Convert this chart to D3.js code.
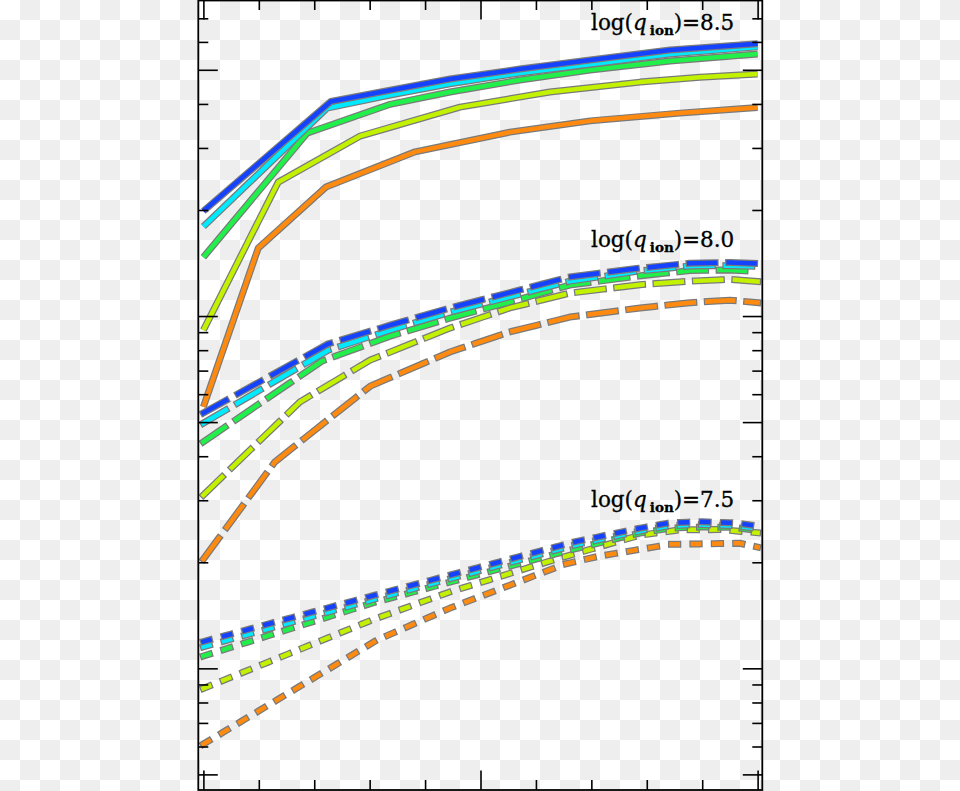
<!DOCTYPE html>
<html><head><meta charset="utf-8">
<script src="https://cdn.jsdelivr.net/npm/d3@7"></script>
<style>body{margin:0;background:#fff}svg{display:block}</style>
</head><body>
<svg id="c" width="960" height="791"></svg>
<script>
// ---------- data ----------
const xTicks = [0,0.1,0.2,0.3,0.4,0.5,0.6,0.7,0.8,0.9,1.0];
const xMajor = [0,0.5,1.0];
const yTicks = [0.5,0.6,0.7,0.8,0.9,1,2,3,4,5,6,7,8,9,10,20,30,40,50,60,70];
const yMajor = [0.5,1,5,10,50];
const seriesNames = ["blue","cyan","green","yellow","orange"];
const seriesColors = ["#1442ff","#00eaff","#22f04a","#c2f200","#ff8a10"];
const qLabels = ["8.5","8.0","7.5"];

// log(q_ion)=8.5 (solid) : x values and log10(y) values per series
const q85_x = [
  [0,0.230,0.337,0.445,0.571,0.698,0.842,1.0],
  [0,0.223,0.337,0.445,0.571,0.698,0.842,1.0],
  [0,0.187,0.337,0.445,0.571,0.698,0.842,1.0],
  [0,0.135,0.283,0.463,0.625,0.788,0.896,1.0],
  [0,0.099,0.221,0.382,0.553,0.698,0.860,1.0]
];
const q85_logy = [
  [1.298,1.609,1.641,1.673,1.701,1.727,1.755,1.773],
  [1.254,1.590,1.627,1.659,1.690,1.715,1.744,1.764],
  [1.167,1.519,1.601,1.636,1.670,1.698,1.724,1.744],
  [0.960,1.380,1.511,1.593,1.636,1.664,1.678,1.687],
  [0.742,1.193,1.366,1.466,1.522,1.554,1.576,1.592]
];
// log(q_ion)=8.0 (long dashes)
const q80_x = [
  [0,0.225,0.337,0.445,0.571,0.661,0.788,0.878,0.950,1.0],
  [0,0.225,0.337,0.445,0.571,0.661,0.788,0.878,0.950,1.0],
  [0,0.214,0.337,0.445,0.571,0.661,0.788,0.878,0.950,1.0],
  [0,0.174,0.301,0.445,0.553,0.661,0.788,0.878,0.950,1.0],
  [0,0.129,0.301,0.445,0.553,0.661,0.788,0.878,0.950,1.0]
];
const q80_logy = [
  [0.725,0.921,0.974,1.023,1.074,1.111,1.136,1.150,1.152,1.149],
  [0.696,0.903,0.960,1.011,1.062,1.099,1.128,1.142,1.143,1.141],
  [0.643,0.872,0.943,0.994,1.048,1.088,1.114,1.129,1.131,1.126],
  [0.492,0.756,0.875,0.966,1.023,1.065,1.089,1.099,1.104,1.098],
  [0.310,0.586,0.801,0.898,0.955,0.997,1.023,1.038,1.045,1.038]
];
// log(q_ion)=7.5 (short dashes)
const q75_x = [
  [0,0.310,0.670,0.788,0.842,0.896,0.959,1.0],
  [0,0.310,0.670,0.788,0.842,0.896,0.959,1.0],
  [0,0.310,0.670,0.788,0.842,0.896,0.959,1.0],
  [0,0.304,0.445,0.643,0.788,0.860,0.932,1.0],
  [0,0.313,0.445,0.553,0.652,0.716,0.797,0.842,0.968,1.0]
];
const q75_logy = [
  [0.076,0.208,0.359,0.398,0.413,0.416,0.413,0.404],
  [0.061,0.197,0.350,0.390,0.405,0.408,0.405,0.397],
  [0.035,0.188,0.339,0.384,0.398,0.401,0.400,0.391],
  [-0.057,0.137,0.217,0.313,0.378,0.393,0.394,0.385],
  [-0.215,0.080,0.171,0.236,0.296,0.319,0.340,0.352,0.355,0.344]
];

// ---------- drawing ----------
const svg = d3.select("#c");
const W = 960, H = 791;
const pLeft = 198.3, pRight = 762.3, pTop = 0, pBottom = 790;

// checkerboard background
const defs = svg.append("defs");
const pat = defs.append("pattern").attr("id","chk").attr("patternUnits","userSpaceOnUse")
  .attr("width",40).attr("height",40);
pat.append("rect").attr("width",40).attr("height",40).attr("fill","#ffffff");
pat.append("rect").attr("x",20).attr("y",0).attr("width",20).attr("height",20).attr("fill","#eeeeee");
pat.append("rect").attr("x",0).attr("y",20).attr("width",20).attr("height",20).attr("fill","#eeeeee");
svg.append("rect").attr("width",W).attr("height",H).attr("fill","url(#chk)");

const x = d3.scaleLinear().domain([-0.00918, 1.00845]).range([pLeft, pRight]);
const y = d3.scaleLog().domain([0.4515, 78.9]).range([pBottom, pTop]);

const clipId = "plotclip";
defs.append("clipPath").attr("id",clipId).append("rect")
  .attr("x",pLeft).attr("y",pTop).attr("width",pRight-pLeft).attr("height",pBottom-pTop);

const line = d3.line().x(d=>x(d[0])).y(d=>y(d[1]));

const groups = [
  {xs:q85_x, ys:q85_logy, dash:null},
  {xs:q80_x, ys:q80_logy, dash:"26,13.5"},
  {xs:q75_x, ys:q75_logy, dash:"6.3,15.1"}
];
const gLines = svg.append("g").attr("clip-path",`url(#${clipId})`);
groups.forEach(g=>{
  for (let i = seriesNames.length-1; i >= 0; i--) {
    const pts = g.xs[i].map((xv,k)=>[xv, Math.pow(10, g.ys[i][k])]);
    const p = line(pts);
    const under = gLines.append("path").attr("d",p).attr("fill","none")
      .attr("stroke","#7a7a7a").attr("stroke-width",7)
      .attr("stroke-linejoin","round");
    const over = gLines.append("path").attr("d",p).attr("fill","none")
      .attr("stroke",seriesColors[i]).attr("stroke-width",4.5)
      .attr("stroke-linejoin","round");
    if (g.dash) {
      under.attr("stroke-dasharray",g.dash).attr("stroke-linecap","square");
      over.attr("stroke-dasharray",g.dash).attr("stroke-linecap","square");
    } else {
      under.attr("stroke-linecap","butt");
      over.attr("stroke-linecap","butt");
    }
  }
});

// axes (ticks inward, no labels)
const xMinor = xTicks.filter(t=>!xMajor.includes(t));
const yMinorT = yTicks.filter(t=>!yMajor.includes(t));
function styleAxis(sel){ sel.select(".domain").remove(); sel.selectAll("line").attr("stroke","#000").attr("stroke-width",1.6); sel.selectAll("text").remove(); }
const axDefs = [
  [d3.axisBottom, x, `translate(0,${pBottom})`],
  [d3.axisTop, x, `translate(0,${pTop})`],
  [d3.axisLeft, y, `translate(${pLeft},0)`],
  [d3.axisRight, y, `translate(${pRight},0)`]
];
axDefs.forEach(([fn, sc, tr], idx)=>{
  const isX = idx < 2;
  const minor = isX ? xMinor : yMinorT;
  const major = isX ? xMajor : yMajor;
  svg.append("g").attr("transform",tr)
    .call(fn(sc).tickValues(minor).tickSize(-10).tickFormat(""))
    .call(styleAxis);
  svg.append("g").attr("transform",tr)
    .call(fn(sc).tickValues(major).tickSize(-19.5).tickFormat(""))
    .call(styleAxis);
});

// frame
svg.append("rect").attr("x",pLeft).attr("y",pTop+0.5).attr("width",pRight-pLeft).attr("height",pBottom-pTop-0.5)
  .attr("fill","none").attr("stroke","#000").attr("stroke-width",1.8);

// labels
const labelBaselines = [30, 247, 507];
qLabels.forEach((lab,i)=>{
  const t = svg.append("text").attr("x",591).attr("y",labelBaselines[i])
    .attr("font-family","DejaVu Serif").attr("font-size",21.5).attr("fill","#000")
    .attr("stroke","#000").attr("stroke-width",0.3);
  t.append("tspan").text("log(");
  t.append("tspan").attr("font-style","italic").text("q");
  t.append("tspan").attr("font-size",13.5).attr("font-weight","bold").attr("dx",3).attr("dy",5).text("ion");
  t.append("tspan").attr("dy",-5).text(")=" + lab);
});
</script>
</body></html>
